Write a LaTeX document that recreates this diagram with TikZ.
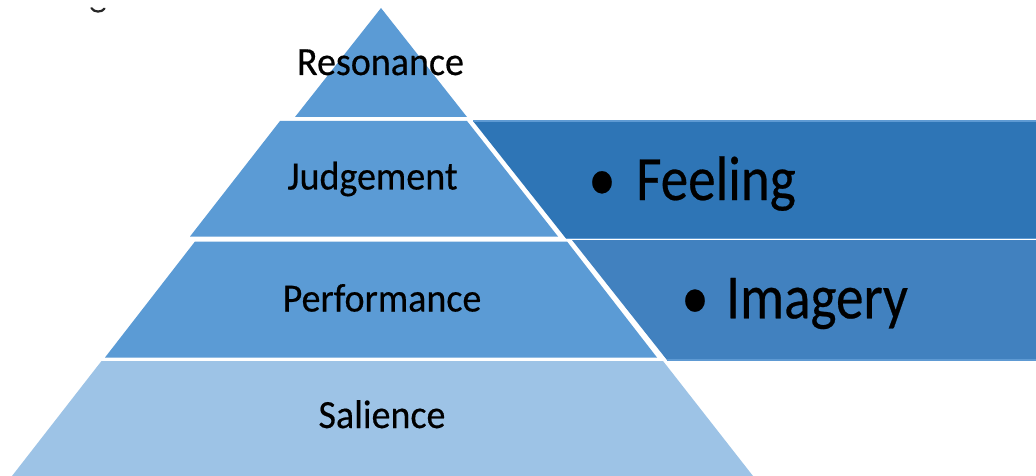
\documentclass[tikz,border=0pt]{standalone}
\usepackage{fontspec}
\setmainfont{Carlito}
\newfontfamily\pyrfont[FakeStretch=0.95,FakeBold=0.4]{Carlito}
\newfontfamily\bandfont[FakeStretch=0.875,FakeBold=0.4]{Carlito}

\definecolor{tiermid}{HTML}{5B9BD5}
\definecolor{tierlow}{HTML}{9DC3E6}
\definecolor{banddark}{HTML}{2E75B6}
\definecolor{bandmid}{HTML}{4181BF}
\definecolor{bandedge}{HTML}{5E9AD3}

\tikzset{
  tier/.style={fill=tiermid, draw=none},
  tierbase/.style={fill=tierlow, draw=none},
  band/.style={draw=bandedge, line width=1.2pt},
  tierlabel/.style={anchor=base, inner sep=0pt, font=\pyrfont\fontsize{40}{48}\selectfont},
  bandlabel/.style={anchor=base west, inner sep=0pt, font=\bandfont\fontsize{63}{72}\selectfont},
  bandbullet/.style={anchor=base, inner sep=0pt, font=\bandfont\fontsize{63}{72}\selectfont},
}

\begin{document}
\begin{tikzpicture}[x=1pt, y=-1pt]
  \useasboundingbox (0,0) rectangle (1036,476);
  \fill[white] (0,0) rectangle (1036,476);

  % stray descender stroke of a heading above the figure
  \draw[line width=2.2pt, line cap=round, black!85] (91.5,8.2) .. controls (94,12.6) and (102,12.6) .. (104.5,8.6);

  % side bands
  \fill[banddark] (473,121) -- (1036,121) -- (1036,238.5) -- (566,238.5) -- cycle;
  \draw[band] (473,121) -- (1036,121) (566,238.5) -- (1036,238.5);
  \fill[bandmid] (572,240) -- (1036,240) -- (1036,360) -- (667,360) -- cycle;
  \draw[band] (667,360) -- (1036,360);

  % pyramid tiers
  \fill[tier] (381,8) -- (467,117) -- (295,117) -- cycle;
  \fill[tier] (280,121) -- (467,121) -- (558,236.5) -- (190,236.5) -- cycle;
  \fill[tier] (195,241.5) -- (567,241.5) -- (657,357.5) -- (105,357.5) -- cycle;
  \fill[tierbase] (101.5,361) -- (663,361) -- (753,476) -- (12,476) -- cycle;

  % tier labels
  \node[tierlabel] (resonance) at (380.5,75) {Resonance};
  \node[tierlabel] (judgement) at (372.5,189.5) {Judgement};
  \node[tierlabel] (performance) at (382,311.5) {Performance};
  \node[tierlabel] (salience) at (382,428) {Salience};

  % band labels
  \node[bandbullet] (feelingdot) at (602,200) {•};
  \node[bandlabel] (feeling) at (636,200) {Feeling};
  \node[bandbullet] (imagerydot) at (695,318.3) {•};
  \node[bandlabel] (imagery) at (726,318.3) {Imagery};
\end{tikzpicture}
\end{document}
